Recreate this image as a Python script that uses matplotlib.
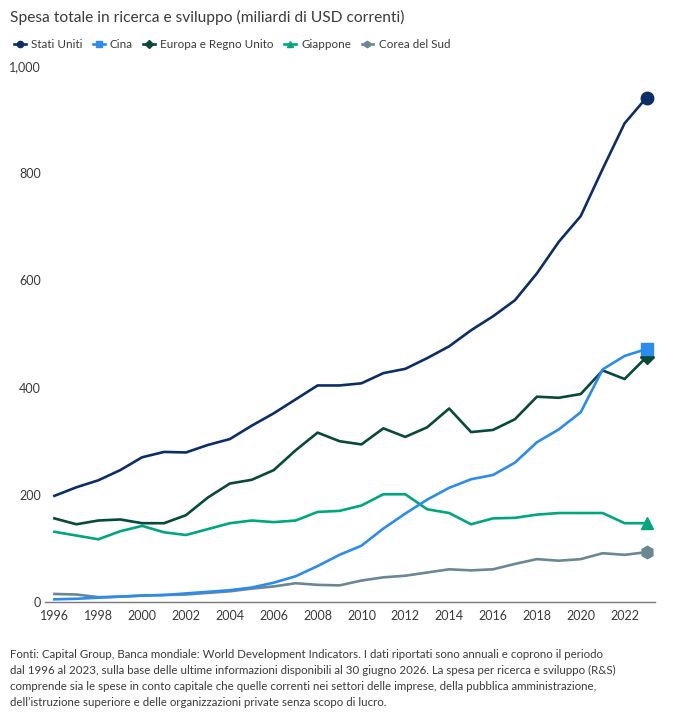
import numpy as np
import matplotlib.pyplot as plt
from matplotlib.lines import Line2D

plt.rcParams['font.family'] = ['Lato', 'DejaVu Sans']

anni = list(range(1996, 2024))

# Valori (miliardi di USD correnti)
stati_uniti = [198, 214, 227, 246, 270, 280, 279, 293, 304, 329, 352, 378, 404, 404,
               408, 427, 435, 455, 477, 507, 533, 563, 613, 672, 720, 808, 893, 941]
cina = [5, 6, 8, 10, 12, 13, 16, 19, 22, 27, 36, 48, 67, 88,
        105, 137, 165, 191, 213, 229, 237, 260, 298, 322, 354, 434, 459, 472]
europa = [156, 145, 152, 154, 147, 147, 162, 195, 221, 228, 246, 283, 316, 300,
          294, 324, 308, 326, 361, 317, 321, 341, 383, 381, 388, 432, 416, 457]
giappone = [131, 124, 117, 132, 142, 130, 125, 136, 147, 152, 149, 152, 168, 170,
            180, 201, 201, 173, 166, 145, 156, 157, 163, 166, 166, 166, 147, 147]
corea = [15, 14, 9, 10, 12, 13, 14, 17, 20, 25, 29, 35, 32, 31,
         40, 46, 49, 55, 61, 59, 61, 71, 80, 77, 80, 91, 88, 93]

serie = [
    ("Stati Uniti", stati_uniti, "#0c2e66", "o", 9),
    ("Cina", cina, "#2b8ceb", "s", 8),
    ("Europa e Regno Unito", europa, "#07493a", "D", 7.5),
    ("Giappone", giappone, "#00a67d", "^", 9),
    ("Corea del Sud", corea, "#6a8793", "h", 9),
]

testo = "#3a3a3a"

fig = plt.figure(figsize=(6.91, 7.12), dpi=100)
ax = fig.add_axes([0.0651, 0.1545, 0.8829, 0.7528])

# Tracciamo dall'ultima alla prima serie così gli Stati Uniti restano sopra
for nome, valori, colore, marker, ms in reversed(serie):
    ax.plot(anni, valori, color=colore, linewidth=1.9, solid_joinstyle='round')
    ax.plot(anni[-1], valori[-1], marker=marker, color=colore, markersize=ms,
            linestyle='none')

ax.set_xlim(1995.57, 2023.39)
ax.set_ylim(0, 1000)
ax.set_xticks(range(1996, 2023, 2))
ax.set_yticks(range(0, 1001, 200))
ax.set_yticklabels(["0", "200", "400", "600", "800", "1,000"])

for lato in ['top', 'right', 'left']:
    ax.spines[lato].set_visible(False)
ax.spines['bottom'].set_color('#7a7a7a')
ax.spines['bottom'].set_linewidth(1.0)
ax.tick_params(axis='both', length=0, labelsize=9, colors=testo, pad=6)
ax.tick_params(axis='y', pad=3)

# Titolo
fig.text(0.0145, 0.976, "Spesa totale in ricerca e sviluppo (miliardi di USD correnti)",
         fontsize=11.2, color=testo, ha='left', va='center')

# Legenda
maniglie = [Line2D([0], [0], color=c, linewidth=1.9, marker=m, markersize=4.5)
            for _, _, c, m, _ in serie]
fig.legend(maniglie, [s[0] for s in serie], loc='center left',
           bbox_to_anchor=(0.005, 0.938), ncol=5, frameon=False, fontsize=8.4,
           handlelength=1.0, handletextpad=0.45, columnspacing=0.9,
           labelcolor=testo)

# Nota a piè di pagina
nota = ("Fonti: Capital Group, Banca mondiale: World Development Indicators. I dati riportati sono annuali e coprono il periodo\n"
        "dal 1996 al 2023, sulla base delle ultime informazioni disponibili al 30 giugno 2026. La spesa per ricerca e sviluppo (R&S)\n"
        "comprende sia le spese in conto capitale che quelle correnti nei settori delle imprese, della pubblica amministrazione,\n"
        "dell\u2019istruzione superiore e delle organizzazioni private senza scopo di lucro.")
fig.text(0.0145, 0.0885, nota, fontsize=8.3, color=testo, ha='left', va='top',
         linespacing=1.55)

fig.savefig("out.png", dpi=100)
